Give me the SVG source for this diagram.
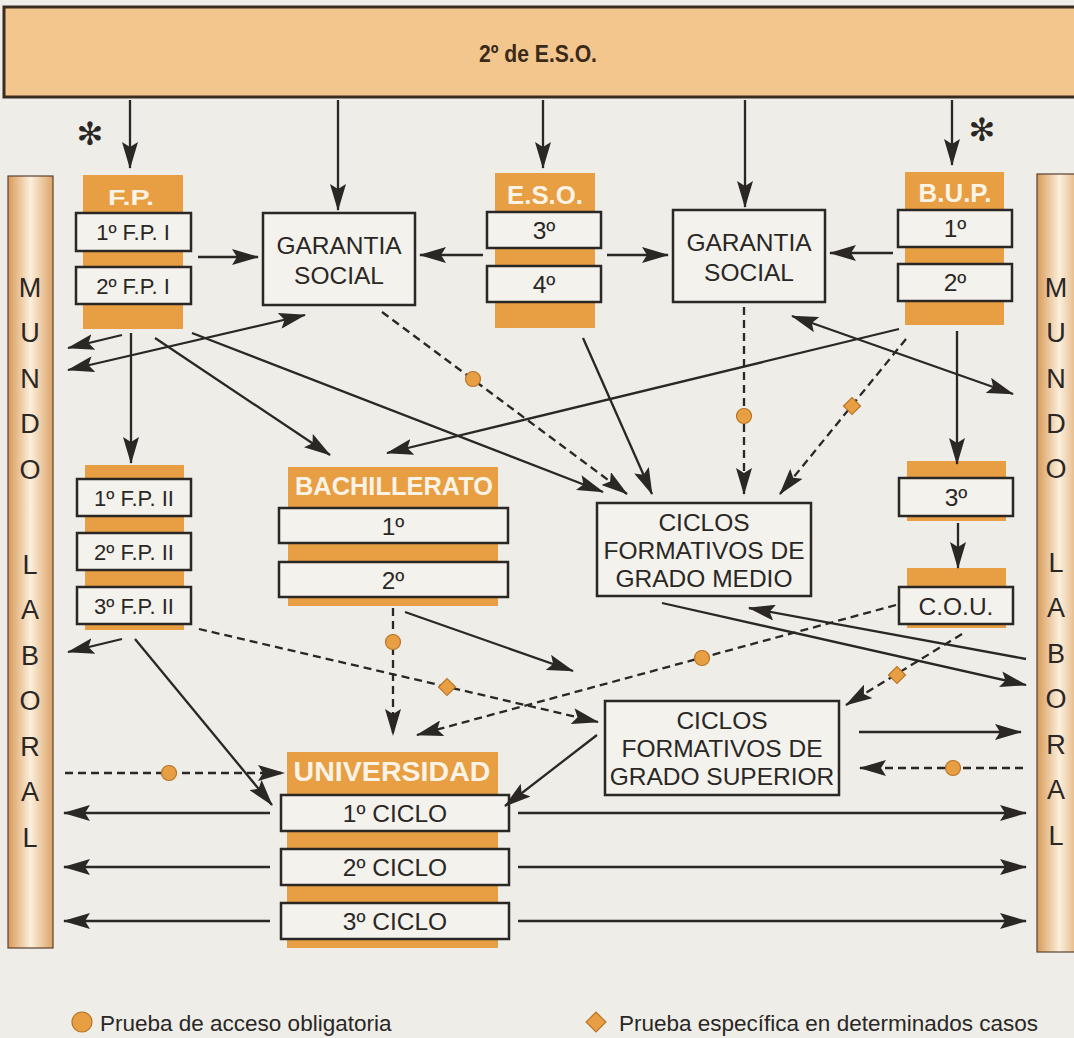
<svg xmlns="http://www.w3.org/2000/svg" width="1074" height="1038" viewBox="0 0 1074 1038">
<defs>
<linearGradient id="bar" x1="0" y1="0" x2="1" y2="0">
<stop offset="0" stop-color="#d89a58"/>
<stop offset="0.5" stop-color="#fcefdc"/>
<stop offset="1" stop-color="#dda468"/>
</linearGradient>
<marker id="ah" viewBox="0 0 27 16" refX="26" refY="8" markerWidth="27" markerHeight="16" markerUnits="userSpaceOnUse" orient="auto-start-reverse">
<path d="M0,0 L27,8 L0,16 L5,8 z" fill="#2a2724"/>
</marker>
<style>
.bg{fill:#eeede8}
.or{fill:#e89e42}
.bx{fill:#f4f2ed;stroke:#2a2724;stroke-width:2.5}
.t{font-family:"Liberation Sans",Arial,sans-serif;fill:#2a2724;text-anchor:middle;dominant-baseline:central}
.s21{font-size:22px}
.s23{font-size:24.5px}
.hd{font-family:"Liberation Sans",Arial,sans-serif;font-weight:bold;fill:#fbf3e6;text-anchor:middle;dominant-baseline:central}
.ml{font-family:"Liberation Sans",Arial,sans-serif;font-size:27px;fill:#2a2724;text-anchor:middle;dominant-baseline:central}
.ln{fill:none;stroke:#2a2724;stroke-width:2.3;marker-end:url(#ah)}
.dl{fill:none;stroke:#2a2724;stroke-width:2.3;stroke-dasharray:8 5;marker-end:url(#ah)}
.both{marker-start:url(#ah)}
.dot{fill:#e89e42;stroke:#b87426;stroke-width:1.2}
.lg{font-family:"Liberation Sans",Arial,sans-serif;font-size:22.5px;fill:#2a2724;dominant-baseline:central}
</style>
</defs>
<rect class="bg" x="0" y="0" width="1074" height="1038"/>

<g id="banner">
<rect x="4" y="7" width="1080" height="90" fill="#f3c68e" stroke="#3a2c20" stroke-width="3"/>
<text x="538" y="53" font-family="Liberation Sans,Arial,sans-serif" font-weight="bold" font-size="24" fill="#3a2a1a" text-anchor="middle" dominant-baseline="central" textLength="118" lengthAdjust="spacingAndGlyphs">2º de E.S.O.</text>
</g>

<g id="asterisks">
<text x="90" y="134" font-family="DejaVu Sans,sans-serif" font-size="32" fill="#2a2724" text-anchor="middle" dominant-baseline="central">✻</text>
<text x="982" y="130" font-family="DejaVu Sans,sans-serif" font-size="32" fill="#2a2724" text-anchor="middle" dominant-baseline="central">✻</text>
</g>

<g id="mundo-left">
<rect x="8" y="176" width="45" height="772" fill="url(#bar)" stroke="#5a4030" stroke-width="1.2"/>
<text class="ml" x="30" y="288">M</text>
<text class="ml" x="30" y="333">U</text>
<text class="ml" x="30" y="379">N</text>
<text class="ml" x="30" y="424">D</text>
<text class="ml" x="30" y="470">O</text>
<text class="ml" x="30" y="565">L</text>
<text class="ml" x="30" y="610">A</text>
<text class="ml" x="30" y="656">B</text>
<text class="ml" x="30" y="701">O</text>
<text class="ml" x="30" y="747">R</text>
<text class="ml" x="30" y="792">A</text>
<text class="ml" x="30" y="838">L</text>
</g>

<g id="mundo-right">
<rect x="1037" y="174" width="45" height="778" fill="url(#bar)" stroke="#5a4030" stroke-width="1.2"/>
<text class="ml" x="1056" y="288">M</text>
<text class="ml" x="1056" y="333">U</text>
<text class="ml" x="1056" y="379">N</text>
<text class="ml" x="1056" y="424">D</text>
<text class="ml" x="1056" y="469">O</text>
<text class="ml" x="1056" y="563">L</text>
<text class="ml" x="1056" y="608">A</text>
<text class="ml" x="1056" y="654">B</text>
<text class="ml" x="1056" y="699">O</text>
<text class="ml" x="1056" y="745">R</text>
<text class="ml" x="1056" y="790">A</text>
<text class="ml" x="1056" y="836">L</text>
</g>

<g id="fp1">
<rect class="or" x="83" y="175" width="100" height="154"/>
<text class="hd" x="131" y="197" font-size="22" textLength="46" lengthAdjust="spacingAndGlyphs">F.P.</text>
<rect class="bx" x="76" y="213" width="115" height="38"/>
<text class="t s21" x="133" y="232">1º F.P. I</text>
<rect class="bx" x="76" y="267" width="115" height="37"/>
<text class="t s21" x="133" y="286">2º F.P. I</text>
</g>

<g id="eso">
<rect class="or" x="495" y="173" width="100" height="155"/>
<text class="hd" x="545" y="195" font-size="25" textLength="76" lengthAdjust="spacingAndGlyphs">E.S.O.</text>
<rect class="bx" x="487" y="212" width="114" height="36"/>
<text class="t s23" x="544" y="230">3º</text>
<rect class="bx" x="487" y="266" width="114" height="36"/>
<text class="t s23" x="544" y="284">4º</text>
</g>

<g id="bup">
<rect class="or" x="905" y="172" width="99" height="153"/>
<text class="hd" x="955" y="193" font-size="25" textLength="73" lengthAdjust="spacingAndGlyphs">B.U.P.</text>
<rect class="bx" x="898" y="210" width="114" height="37"/>
<text class="t s23" x="955" y="228">1º</text>
<rect class="bx" x="898" y="264" width="114" height="37"/>
<text class="t s23" x="955" y="282">2º</text>
</g>

<g id="gs-left">
<rect class="bx" x="263" y="213" width="152" height="92"/>
<text class="t s23" x="339" y="245">GARANTIA</text>
<text class="t s23" x="339" y="275">SOCIAL</text>
</g>

<g id="gs-right">
<rect class="bx" x="673" y="210" width="152" height="92"/>
<text class="t s23" x="749" y="242">GARANTIA</text>
<text class="t s23" x="749" y="272">SOCIAL</text>
</g>

<g id="fp2">
<rect class="or" x="85" y="465" width="99" height="165"/>
<rect class="bx" x="77" y="479" width="114" height="37"/>
<text class="t s21" x="134" y="498">1º F.P. II</text>
<rect class="bx" x="77" y="533" width="114" height="37"/>
<text class="t s21" x="134" y="552">2º F.P. II</text>
<rect class="bx" x="77" y="587" width="114" height="37"/>
<text class="t s21" x="134" y="606">3º F.P. II</text>
</g>

<g id="bachillerato">
<rect class="or" x="288" y="467" width="210" height="139"/>
<text class="hd" x="394" y="486" font-size="26" textLength="198" lengthAdjust="spacingAndGlyphs">BACHILLERATO</text>
<rect class="bx" x="279" y="508" width="229" height="35"/>
<text class="t s23" x="393" y="526">1º</text>
<rect class="bx" x="279" y="562" width="229" height="35"/>
<text class="t s23" x="393" y="580">2º</text>
</g>

<g id="bup3">
<rect class="or" x="907" y="461" width="99" height="60"/>
<rect class="bx" x="899" y="478" width="114" height="38"/>
<text class="t s23" x="956" y="497">3º</text>
</g>

<g id="cou">
<rect class="or" x="907" y="568" width="99" height="60"/>
<rect class="bx" x="899" y="587" width="114" height="37"/>
<text class="t s23" x="956" y="606">C.O.U.</text>
</g>

<g id="cgm">
<rect class="bx" x="597" y="503" width="214" height="93"/>
<text class="t s23" x="704" y="522">CICLOS</text>
<text class="t s23" x="704" y="550">FORMATIVOS DE</text>
<text class="t s23" x="704" y="578">GRADO MEDIO</text>
</g>

<g id="cgs">
<rect class="bx" x="605" y="701" width="234" height="94"/>
<text class="t s23" x="722" y="720">CICLOS</text>
<text class="t s23" x="722" y="748">FORMATIVOS DE</text>
<text class="t s23" x="722" y="776">GRADO SUPERIOR</text>
</g>

<g id="universidad">
<rect class="or" x="287" y="752" width="211" height="196"/>
<text class="hd" x="392" y="772" font-size="27" textLength="197" lengthAdjust="spacingAndGlyphs">UNIVERSIDAD</text>
<rect class="bx" x="281" y="795" width="228" height="36"/>
<text class="t s23" x="395" y="813">1º CICLO</text>
<rect class="bx" x="281" y="849" width="228" height="36"/>
<text class="t s23" x="395" y="867">2º CICLO</text>
<rect class="bx" x="281" y="903" width="228" height="36"/>
<text class="t s23" x="395" y="921">3º CICLO</text>
</g>

<g id="connectors">
<path class="ln" d="M130,100 V168"/>
<path class="ln" d="M338,100 V210"/>
<path class="ln" d="M543,100 V168"/>
<path class="ln" d="M745,100 V207"/>
<path class="ln" d="M952,100 V165"/>
<path class="ln" d="M198,257 H258"/>
<path class="ln" d="M483,255 H420"/>
<path class="ln" d="M607,255 H668"/>
<path class="ln" d="M893,253 H830"/>
<path class="ln" d="M122,335 L68,348"/>
<path class="ln both" d="M68,370 L305,315"/>
<path class="ln" d="M131,333 V463"/>
<path class="ln" d="M155,338 L330,455"/>
<path class="ln" d="M192,333 L603,492"/>
<path class="dl" d="M382,312 L627,494"/>
<path class="ln" d="M583,338 L652,494"/>
<path class="dl" d="M744,307 V494"/>
<path class="dl" d="M906,339 L780,494"/>
<path class="ln" d="M899,329 L387,453"/>
<path class="ln both" d="M792,316 L1013,394"/>
<path class="ln" d="M957,331 V464"/>
<path class="ln" d="M958,523 V568"/>
<path class="ln" d="M122,639 L68,652"/>
<path class="ln" d="M135,639 L272,805"/>
<path class="dl" d="M199,629 L598,722"/>
<path class="dl" d="M393,608 V735"/>
<path class="ln" d="M405,612 L573,671"/>
<path class="dl" d="M896,605 L417,735"/>
<path class="ln" d="M662,603 L1026,685"/>
<path class="ln" d="M1026,659 L749,608"/>
<path class="dl" d="M962,634 L846,705"/>
<path class="ln" d="M859,732 H1021"/>
<path class="dl" d="M1023,768 H860"/>
<path class="dl" d="M65,773 H284"/>
<path class="ln" d="M597,735 L505,806"/>
<path class="ln" d="M270,813 H64"/>
<path class="ln" d="M270,867 H64"/>
<path class="ln" d="M270,921 H64"/>
<path class="ln" d="M518,813 H1026"/>
<path class="ln" d="M518,867 H1026"/>
<path class="ln" d="M518,921 H1026"/>
<circle class="dot" cx="473" cy="379" r="7.5"/>
<circle class="dot" cx="744" cy="416" r="7.5"/>
<rect class="dot" x="846" y="400" width="12" height="12" transform="rotate(45 852 406)"/>
<rect class="dot" x="441" y="681" width="12" height="12" transform="rotate(45 447 687)"/>
<circle class="dot" cx="393" cy="642" r="7.5"/>
<circle class="dot" cx="702" cy="658" r="7.5"/>
<rect class="dot" x="891" y="669" width="12" height="12" transform="rotate(45 897 675)"/>
<circle class="dot" cx="953" cy="768" r="7.5"/>
<circle class="dot" cx="169" cy="773" r="7.5"/>
</g>

<g id="legend">
<circle class="dot" cx="82" cy="1022" r="10"/>
<text class="lg" x="100" y="1023">Prueba de acceso obligatoria</text>
<rect class="dot" x="589" y="1015" width="14" height="14" transform="rotate(45 596 1022)"/>
<text class="lg" x="619" y="1023">Prueba específica en determinados casos</text>
</g>
</svg>
